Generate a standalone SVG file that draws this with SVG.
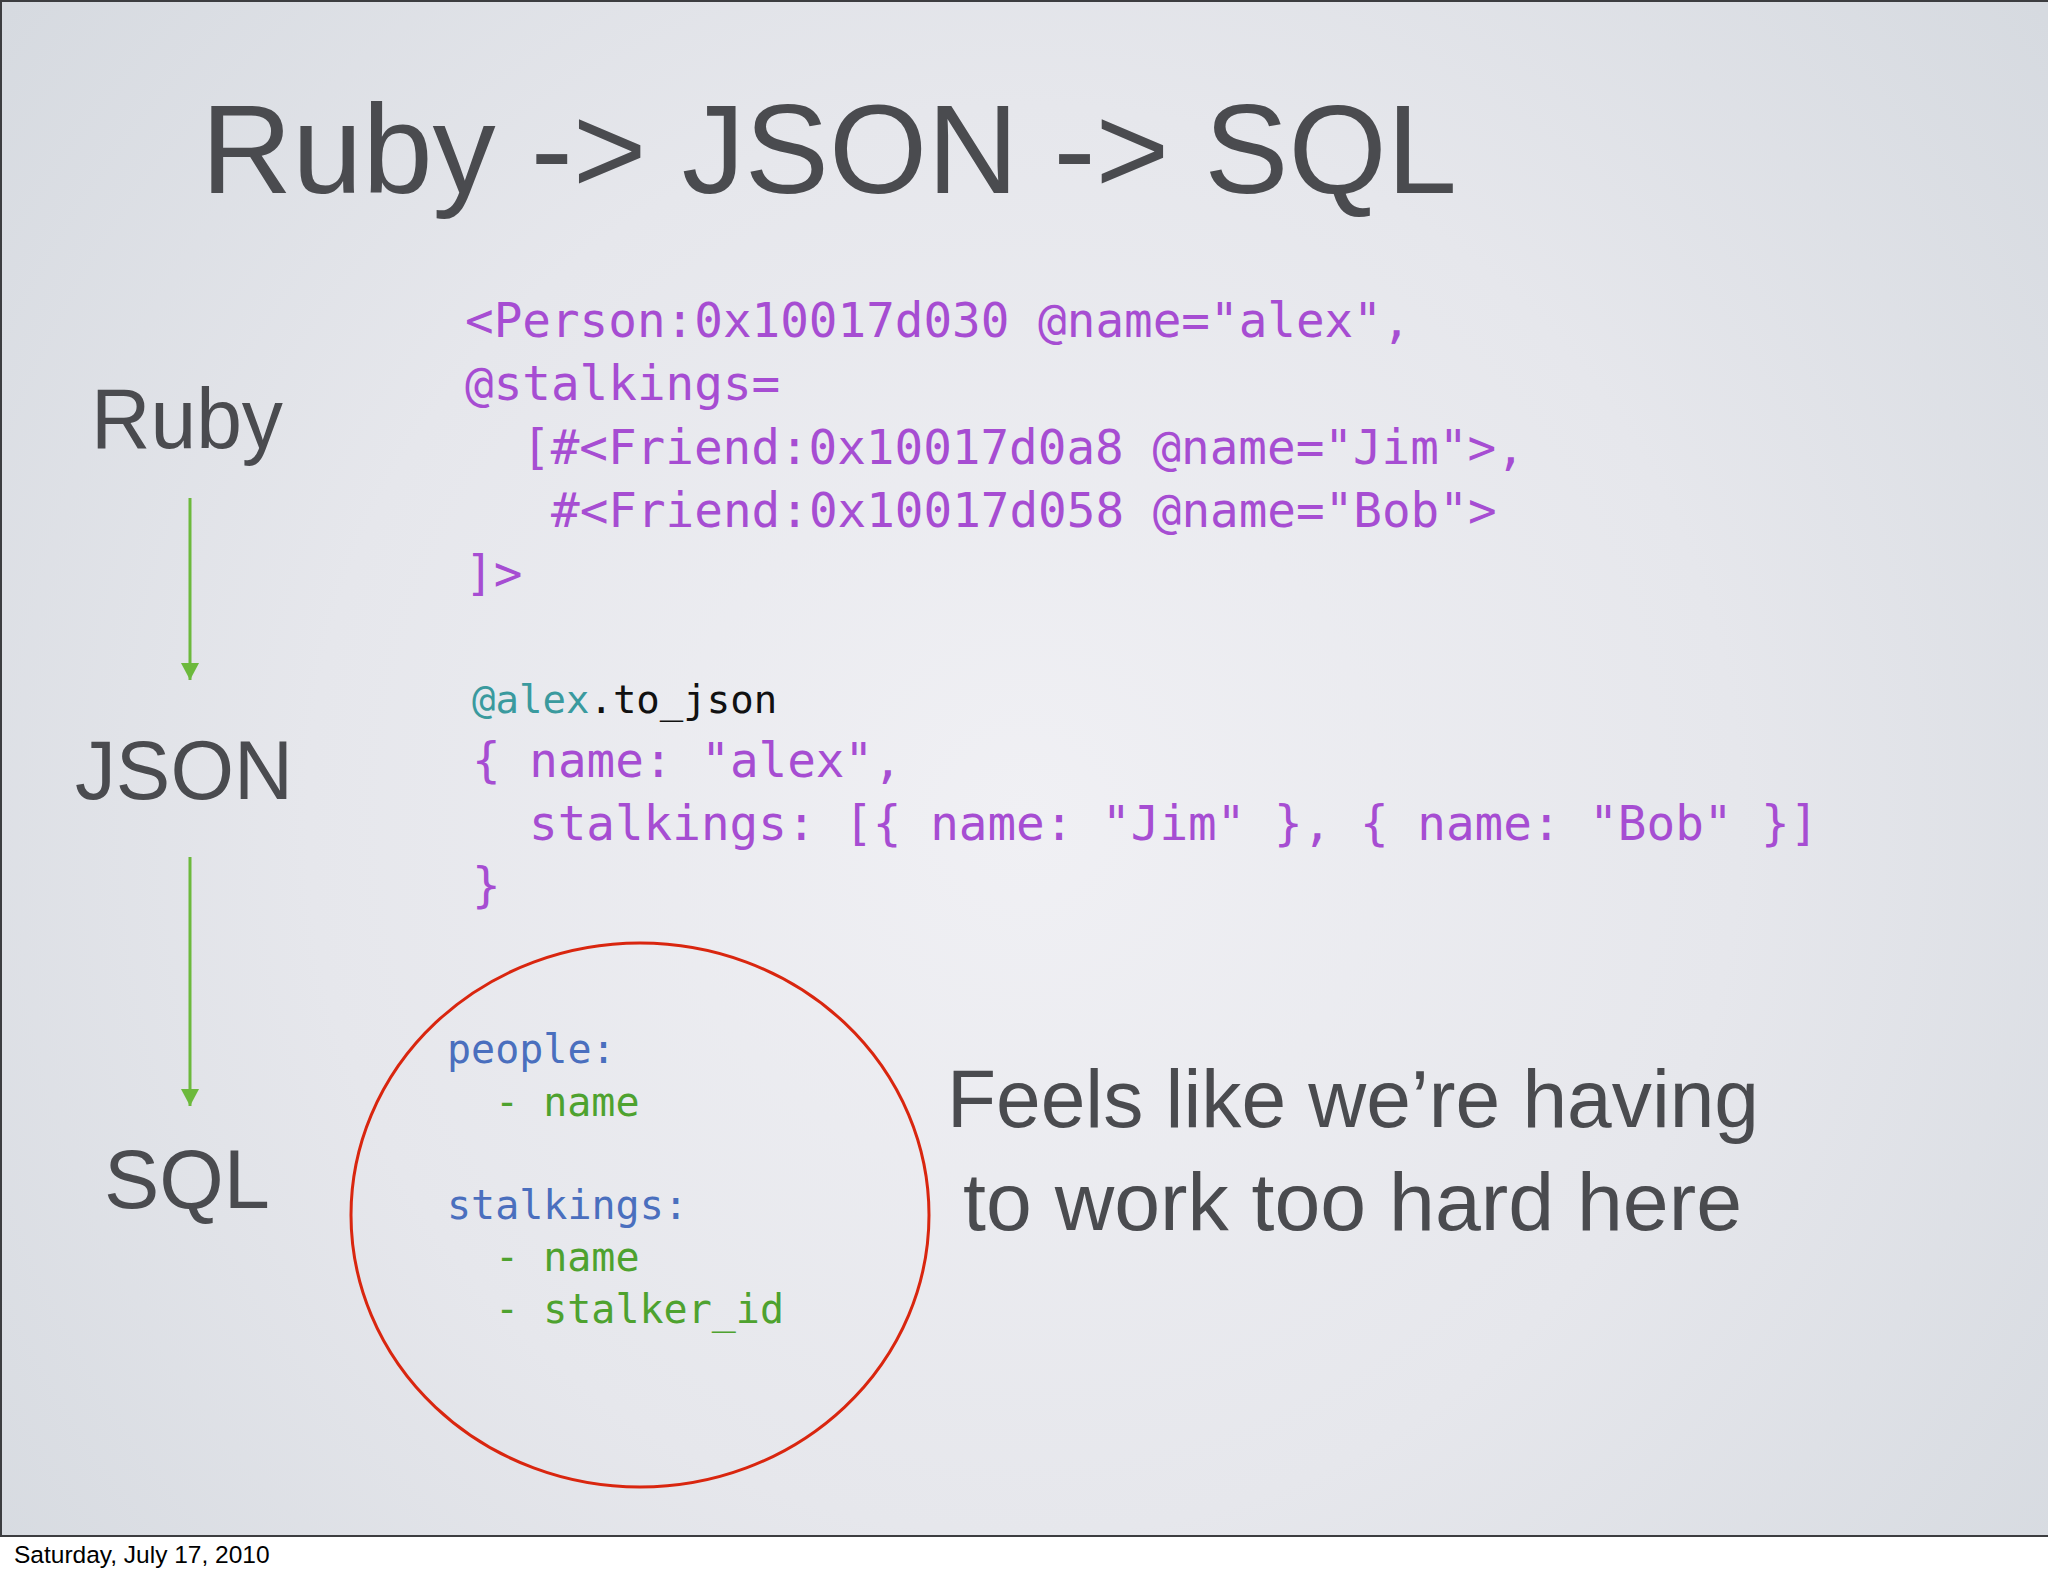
<svg xmlns="http://www.w3.org/2000/svg" width="2048" height="1576" viewBox="0 0 2048 1576">
<defs>
<radialGradient id="bg" cx="1024" cy="820" r="1300" gradientUnits="userSpaceOnUse">
<stop offset="0" stop-color="#f0f0f4"/>
<stop offset="0.55" stop-color="#e6e7ec"/>
<stop offset="1" stop-color="#d6dae0"/>
</radialGradient>
<marker id="ah" markerUnits="userSpaceOnUse" markerWidth="18" markerHeight="18" refX="17" refY="9" orient="auto" viewBox="0 0 18 18">
<path d="M0,0 L17,9 L0,18 z" fill="#6cb93c"/>
</marker>
<style>
.sans{font-family:"Liberation Sans",Arial,Helvetica,sans-serif;fill:#4a4b4f}
.mono{font-family:"DejaVu Sans Mono","Liberation Mono",monospace}
.pur{fill:#a64dd2}
.blu{fill:#4a6fbe}
.grn{fill:#4ea22f}
.teal{fill:#3a9a9e}
.blk{fill:#111111}
.conn{stroke:#6cb93c;stroke-width:3;fill:none}
</style>
</defs>
<rect x="0" y="0" width="2048" height="1576" fill="#ffffff"/>
<rect x="0" y="0" width="2048" height="1536" fill="url(#bg)"/>
<g id="frame" stroke="#3c3d40" stroke-width="2" fill="none">
<line x1="0" y1="1" x2="2048" y2="1"/>
<line x1="1" y1="0" x2="1" y2="1536"/>
<line x1="0" y1="1536" x2="2048" y2="1536"/>
</g>
<g id="title">
<text class="sans" x="201" y="193" font-size="127" textLength="1256" lengthAdjust="spacingAndGlyphs">Ruby -&gt; JSON -&gt; SQL</text>
</g>
<g id="node-ruby">
<text class="sans" x="187" y="448" font-size="85" text-anchor="middle" textLength="192" lengthAdjust="spacingAndGlyphs">Ruby</text>
</g>
<g id="node-json">
<text class="sans" x="184" y="799" font-size="84" text-anchor="middle" textLength="218" lengthAdjust="spacingAndGlyphs">JSON</text>
</g>
<g id="node-sql">
<text class="sans" x="187" y="1208" font-size="84" text-anchor="middle" textLength="166" lengthAdjust="spacingAndGlyphs">SQL</text>
</g>
<g id="connectors">
<line class="conn" x1="190" y1="498" x2="190" y2="680" marker-end="url(#ah)"/>
<line class="conn" x1="190" y1="857" x2="190" y2="1106" marker-end="url(#ah)"/>
</g>
<g id="ruby-code" class="mono pur" font-size="47.6">
<text x="465" y="337">&lt;Person:0x10017d030 @name="alex",</text>
<text x="465" y="400">@stalkings=</text>
<text x="522" y="464">[#&lt;Friend:0x10017d0a8 @name="Jim"&gt;,</text>
<text x="551" y="527">#&lt;Friend:0x10017d058 @name="Bob"&gt;</text>
<text x="465" y="590">]&gt;</text>
</g>
<g id="json-code" class="mono">
<text x="472" y="713" font-size="39"><tspan class="teal">@alex</tspan><tspan class="blk">.to_json</tspan></text>
<text class="pur" x="472" y="777" font-size="47.6">{ name: "alex",</text>
<text class="pur" x="529" y="840" font-size="47.6">stalkings: [{ name: "Jim" }, { name: "Bob" }]</text>
<text class="pur" x="472" y="902" font-size="47.6">}</text>
</g>
<g id="sql-schema">
<ellipse cx="640" cy="1215" rx="289" ry="272" fill="none" stroke="#d9260f" stroke-width="3"/>
<g class="mono" font-size="40">
<text class="blu" x="447" y="1063">people:</text>
<text class="grn" x="495" y="1116">- name</text>
<text class="blu" x="447" y="1219">stalkings:</text>
<text class="grn" x="495" y="1271">- name</text>
<text class="grn" x="495" y="1323">- stalker_id</text>
</g>
</g>
<g id="comment">
<text class="sans" x="947" y="1127" font-size="81" textLength="812" lengthAdjust="spacingAndGlyphs">Feels like we’re having</text>
<text class="sans" x="963" y="1230" font-size="81" textLength="779" lengthAdjust="spacingAndGlyphs">to work too hard here</text>
</g>
<g id="footer">
<text x="14" y="1563" font-size="24.5" font-family="Liberation Sans, Arial, sans-serif" fill="#000000">Saturday, July 17, 2010</text>
</g>
</svg>
